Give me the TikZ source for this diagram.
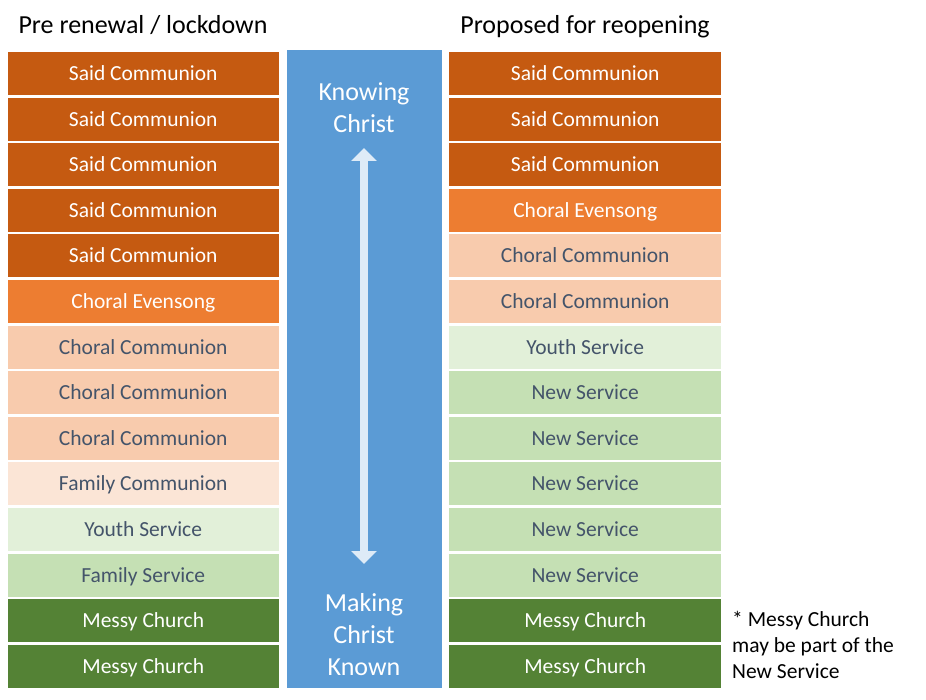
\documentclass[tikz,border=0pt]{standalone}
\usepackage{fontspec}
\setmainfont{Carlito}
\usetikzlibrary{arrows.meta}
\definecolor{cDarkOr}{HTML}{C55A11}
\definecolor{cOr}{HTML}{ED7D31}
\definecolor{cPeach}{HTML}{F8CBAD}
\definecolor{cLPeach}{HTML}{FBE5D6}
\definecolor{cLGreen}{HTML}{E2F0D9}
\definecolor{cGreen}{HTML}{C5E0B4}
\definecolor{cDGreen}{HTML}{548235}
\definecolor{cBlue}{HTML}{5B9BD5}
\definecolor{cSlate}{HTML}{44546A}
\definecolor{cArrow}{HTML}{DEEBF7}
\tikzset{
  svc/.style={minimum width=271.5pt, minimum height=43pt, inner sep=0pt,
    text height=17pt, text depth=3pt, font=\fontsize{21.5}{25.5}\selectfont},
  kDarkOr/.style={svc, fill=cDarkOr, text=white},
  kOr/.style={svc, fill=cOr, text=white},
  kPeach/.style={svc, fill=cPeach, text=cSlate},
  kLPeach/.style={svc, fill=cLPeach, text=cSlate},
  kLGreen/.style={svc, fill=cLGreen, text=cSlate},
  kGreen/.style={svc, fill=cGreen, text=cSlate},
  kDGreen/.style={svc, fill=cDGreen, text=white},
  heading/.style={font=\fontsize{26}{31}\selectfont, inner sep=0pt, anchor=base},
  bandtext/.style={font=\fontsize{26}{32}\selectfont, text=white, align=center, inner sep=0pt, anchor=north},
  notetext/.style={font=\fontsize{21.5}{25.8}\selectfont, align=left, inner sep=0pt, anchor=north west},
  bandarrow/.style={draw=cArrow, line width=8.5pt,
    {Triangle[width=25pt,length=13pt]}-{Triangle[width=25pt,length=13pt]}}
}
\begin{document}
\begin{tikzpicture}[x=1pt,y=-1pt]
\useasboundingbox (0,0) rectangle (926,700);
% headings
\node[heading] (hL) at (143,33.5) {Pre renewal / lockdown};
\node[heading] (hR) at (585,34) {Proposed for reopening};
% central band
\node[fill=cBlue, minimum width=155pt, minimum height=638pt, inner sep=0pt, anchor=north west] (band) at (286.5,50) {};
\node[bandtext] (kc) at (364,82.5) {Knowing\\Christ};
\node[bandtext] (mck) at (364,593) {Making\\Christ\\Known};
\coordinate (atop) at (364,148);
\coordinate (abot) at (364,564);
\draw[bandarrow] (atop) -- (abot);
% left column
\foreach \st/\txt [count=\i from 0] in {
  kDarkOr/Said Communion, kDarkOr/Said Communion, kDarkOr/Said Communion,
  kDarkOr/Said Communion, kDarkOr/Said Communion, kOr/Choral Evensong,
  kPeach/Choral Communion, kPeach/Choral Communion, kPeach/Choral Communion,
  kLPeach/Family Communion, kLGreen/Youth Service, kGreen/Family Service,
  kDGreen/Messy Church, kDGreen/Messy Church}
  \node[\st] (L\i) at (143.25, 52+45.6*\i+21.5) {\txt};
% right column
\foreach \st/\txt [count=\i from 0] in {
  kDarkOr/Said Communion, kDarkOr/Said Communion, kDarkOr/Said Communion,
  kOr/Choral Evensong, kPeach/Choral Communion, kPeach/Choral Communion,
  kLGreen/Youth Service, kGreen/New Service, kGreen/New Service,
  kGreen/New Service, kGreen/New Service, kGreen/New Service,
  kDGreen/Messy Church, kDGreen/Messy Church}
  \node[\st] (R\i) at (585.2, 52+45.6*\i+21.5) {\txt};
% note
\node[notetext] (note) at (732,611.5) {* Messy Church\\may be part of the\\New Service};
\end{tikzpicture}
\end{document}
